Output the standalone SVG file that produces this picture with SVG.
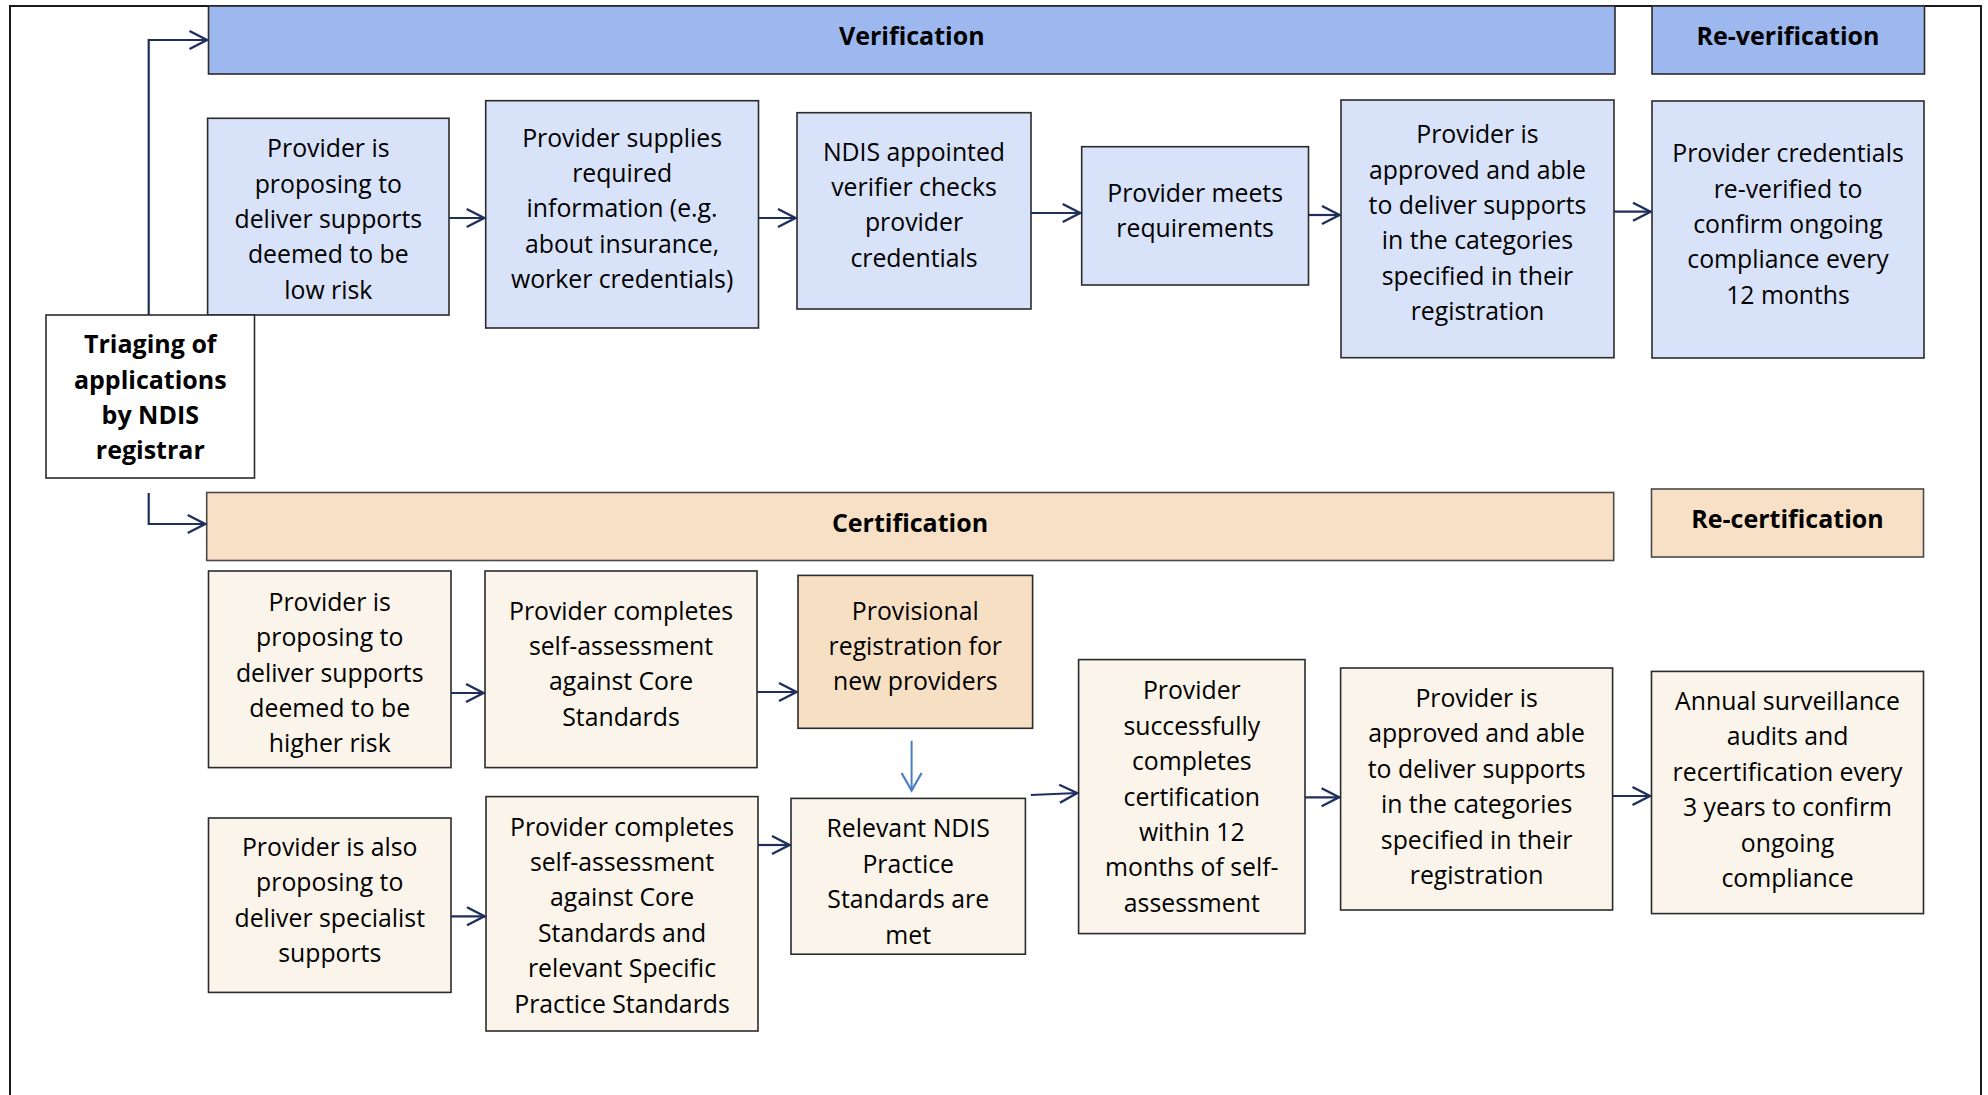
<svg xmlns="http://www.w3.org/2000/svg" width="1988" height="1095" viewBox="0 0 1988 1095">
<style>
  text { font-family: "Open Sans", "Noto Sans", "Liberation Sans", sans-serif; fill: #000; text-anchor: middle; }
  .t { font-size: 24.8px; }
  .b { font-size: 25px; font-weight: bold; }
  .h { font-size: 25px; font-weight: bold; }
  .box { stroke: #2b2b2b; stroke-width: 1.6; }
  .blueBar { fill: #9DB8EE; }
  .blue { fill: #D8E2F8; }
  .peachBar { fill: #F7E0C5; stroke: #4a4a4a; }
  .cream { fill: #FBF4EA; }
  .peach { fill: #F7DFC4; }
  .white { fill: #FFFFFF; }
  .conn { fill: none; stroke: #1F2F5C; stroke-width: 2.2; }
  .conn2 { fill: none; stroke: #4A7EC4; stroke-width: 2; }
</style>
<defs>
  <marker id="arr" markerUnits="userSpaceOnUse" markerWidth="26" markerHeight="26" viewBox="-22 -13 26 26" refX="0" refY="0" orient="auto">
    <path d="M-18,-9 L-0.5,0 L-18,9" fill="none" stroke="#1F2F5C" stroke-width="2.4"/>
  </marker>
  <marker id="arrBlue" markerUnits="userSpaceOnUse" markerWidth="26" markerHeight="26" viewBox="-22 -13 26 26" refX="0" refY="0" orient="auto">
    <path d="M-18,-10 L-0.5,0 L-18,10" fill="none" stroke="#4A7EC4" stroke-width="2.2"/>
  </marker>
</defs>

<rect id="frame" x="10" y="6" width="1971" height="1100" fill="#FFFFFF" stroke="#1a1a1a" stroke-width="2"/>

<g id="verification">
  <rect class="box blueBar" x="208.5" y="6" width="1406.5" height="68"/>
  <text class="h" x="911.8" y="45">Verification</text>
</g>
<g id="re-verification">
  <rect class="box blueBar" x="1652" y="6" width="272.5" height="68"/>
  <text class="h" x="1788" y="45">Re-verification</text>
</g>

<g id="low-risk">
  <rect class="box blue" x="207.6" y="118.3" width="241.4" height="196.7"/>
  <text class="t" x="328.3" y="157.3">Provider is</text>
  <text class="t" x="328.3" y="192.6">proposing to</text>
  <text class="t" x="328.3" y="227.9">deliver supports</text>
  <text class="t" x="328.3" y="263.2">deemed to be</text>
  <text class="t" x="328.3" y="298.5">low risk</text>
</g>
<g id="supplies-info">
  <rect class="box blue" x="485.7" y="100.7" width="272.8" height="227.3"/>
  <text class="t" x="622.1" y="146.7">Provider supplies</text>
  <text class="t" x="622.1" y="182">required</text>
  <text class="t" x="622.1" y="217.3">information (e.g.</text>
  <text class="t" x="622.1" y="252.6">about insurance,</text>
  <text class="t" x="622.1" y="287.9">worker credentials)</text>
</g>
<g id="verifier-checks">
  <rect class="box blue" x="797" y="112.7" width="234" height="196.3"/>
  <text class="t" x="914" y="160.7">NDIS appointed</text>
  <text class="t" x="914" y="196">verifier checks</text>
  <text class="t" x="914" y="231.3">provider</text>
  <text class="t" x="914" y="266.6">credentials</text>
</g>
<g id="meets-requirements">
  <rect class="box blue" x="1081.7" y="146.7" width="226.8" height="138.3"/>
  <text class="t" x="1195.1" y="201.7">Provider meets</text>
  <text class="t" x="1195.1" y="237">requirements</text>
</g>
<g id="approved-verification">
  <rect class="box blue" x="1341" y="100" width="273" height="257.7"/>
  <text class="t" x="1477.5" y="143.3">Provider is</text>
  <text class="t" x="1477.5" y="178.6">approved and able</text>
  <text class="t" x="1477.5" y="213.9">to deliver supports</text>
  <text class="t" x="1477.5" y="249.2">in the categories</text>
  <text class="t" x="1477.5" y="284.5">specified in their</text>
  <text class="t" x="1477.5" y="319.8">registration</text>
</g>
<g id="re-verified">
  <rect class="box blue" x="1652" y="101" width="272" height="257"/>
  <text class="t" x="1788" y="162.3">Provider credentials</text>
  <text class="t" x="1788" y="197.6">re-verified to</text>
  <text class="t" x="1788" y="232.9">confirm ongoing</text>
  <text class="t" x="1788" y="268.2">compliance every</text>
  <text class="t" x="1788" y="303.5">12 months</text>
</g>

<g id="triaging">
  <rect class="box white" x="46" y="315" width="208.5" height="163"/>
  <text class="b" x="150.3" y="353.3">Triaging of</text>
  <text class="b" x="150.3" y="388.6">applications</text>
  <text class="b" x="150.3" y="423.9">by NDIS</text>
  <text class="b" x="150.3" y="459.2">registrar</text>
</g>

<g id="certification">
  <rect class="box peachBar" x="206.7" y="492.5" width="1407" height="68"/>
  <text class="h" x="910" y="532">Certification</text>
</g>
<g id="re-certification">
  <rect class="box peachBar" x="1651.5" y="489" width="272" height="68"/>
  <text class="h" x="1787.5" y="528">Re-certification</text>
</g>

<g id="higher-risk">
  <rect class="box cream" x="208.5" y="571" width="242.5" height="196.6"/>
  <text class="t" x="329.75" y="610.8">Provider is</text>
  <text class="t" x="329.75" y="646.2">proposing to</text>
  <text class="t" x="329.75" y="681.6">deliver supports</text>
  <text class="t" x="329.75" y="717">deemed to be</text>
  <text class="t" x="329.75" y="752.4">higher risk</text>
</g>
<g id="self-assessment-core">
  <rect class="box cream" x="485" y="571" width="272" height="196.6"/>
  <text class="t" x="621" y="619.6">Provider completes</text>
  <text class="t" x="621" y="655">self-assessment</text>
  <text class="t" x="621" y="690.4">against Core</text>
  <text class="t" x="621" y="725.8">Standards</text>
</g>
<g id="provisional">
  <rect class="box peach" x="798" y="575.4" width="234.6" height="152.9"/>
  <text class="t" x="915.3" y="619.6">Provisional</text>
  <text class="t" x="915.3" y="655">registration for</text>
  <text class="t" x="915.3" y="690.4">new providers</text>
</g>
<g id="specialist">
  <rect class="box cream" x="208.5" y="818" width="242.5" height="174.4"/>
  <text class="t" x="329.75" y="856">Provider is also</text>
  <text class="t" x="329.75" y="891.4">proposing to</text>
  <text class="t" x="329.75" y="926.8">deliver specialist</text>
  <text class="t" x="329.75" y="962.2">supports</text>
</g>
<g id="self-assessment-specific">
  <rect class="box cream" x="486" y="796.6" width="272" height="234.4"/>
  <text class="t" x="622" y="835.6">Provider completes</text>
  <text class="t" x="622" y="871">self-assessment</text>
  <text class="t" x="622" y="906.4">against Core</text>
  <text class="t" x="622" y="941.8">Standards and</text>
  <text class="t" x="622" y="977.2">relevant Specific</text>
  <text class="t" x="622" y="1012.6">Practice Standards</text>
</g>
<g id="standards-met">
  <rect class="box cream" x="791" y="798.4" width="234.4" height="155.8"/>
  <text class="t" x="908.2" y="837.3">Relevant NDIS</text>
  <text class="t" x="908.2" y="872.7">Practice</text>
  <text class="t" x="908.2" y="908.1">Standards are</text>
  <text class="t" x="908.2" y="943.5">met</text>
</g>
<g id="successfully-completes">
  <rect class="box cream" x="1078.6" y="659.6" width="226.4" height="274"/>
  <text class="t" x="1191.8" y="699.3">Provider</text>
  <text class="t" x="1191.8" y="734.7">successfully</text>
  <text class="t" x="1191.8" y="770.1">completes</text>
  <text class="t" x="1191.8" y="805.5">certification</text>
  <text class="t" x="1191.8" y="840.9">within 12</text>
  <text class="t" x="1191.8" y="876.3">months of self-</text>
  <text class="t" x="1191.8" y="911.7">assessment</text>
</g>
<g id="approved-certification">
  <rect class="box cream" x="1340.6" y="668" width="272" height="242"/>
  <text class="t" x="1476.6" y="707">Provider is</text>
  <text class="t" x="1476.6" y="742.4">approved and able</text>
  <text class="t" x="1476.6" y="777.8">to deliver supports</text>
  <text class="t" x="1476.6" y="813.2">in the categories</text>
  <text class="t" x="1476.6" y="848.6">specified in their</text>
  <text class="t" x="1476.6" y="884">registration</text>
</g>
<g id="annual-surveillance">
  <rect class="box cream" x="1651.5" y="671.4" width="272" height="242.2"/>
  <text class="t" x="1787.5" y="709.9">Annual surveillance</text>
  <text class="t" x="1787.5" y="745.3">audits and</text>
  <text class="t" x="1787.5" y="780.7">recertification every</text>
  <text class="t" x="1787.5" y="816.1">3 years to confirm</text>
  <text class="t" x="1787.5" y="851.5">ongoing</text>
  <text class="t" x="1787.5" y="886.9">compliance</text>
</g>

<g id="connectors">
  <path class="conn" d="M148.7,315 V40 H207.5" marker-end="url(#arr)"/>
  <path class="conn" d="M148.7,493 V524 H205.7" marker-end="url(#arr)"/>
  <path class="conn" d="M449,218 H484.7" marker-end="url(#arr)"/>
  <path class="conn" d="M758.5,218 H796" marker-end="url(#arr)"/>
  <path class="conn" d="M1031,213 H1080.7" marker-end="url(#arr)"/>
  <path class="conn" d="M1308.5,215 H1340" marker-end="url(#arr)"/>
  <path class="conn" d="M1614,211.7 H1651" marker-end="url(#arr)"/>
  <path class="conn" d="M451,693 H484" marker-end="url(#arr)"/>
  <path class="conn" d="M757,692 H797" marker-end="url(#arr)"/>
  <path class="conn" d="M451,916.3 H485" marker-end="url(#arr)"/>
  <path class="conn" d="M758,845 H790" marker-end="url(#arr)"/>
  <path class="conn2" d="M911.6,740.7 V791" marker-end="url(#arrBlue)"/>
  <path class="conn" d="M1030.8,795 L1077.6,793" marker-end="url(#arr)"/>
  <path class="conn" d="M1305,797.3 H1339.6" marker-end="url(#arr)"/>
  <path class="conn" d="M1612.4,796 H1650.5" marker-end="url(#arr)"/>
</g>
</svg>
